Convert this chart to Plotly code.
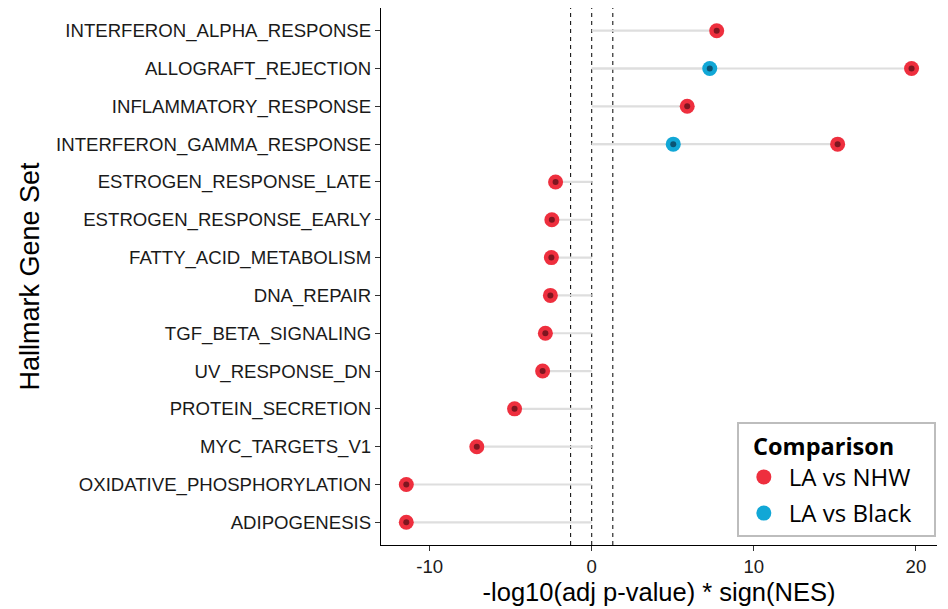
import plotly.graph_objects as go

# Hallmark gene sets, top to bottom
gene_sets = [
    "INTERFERON_ALPHA_RESPONSE",
    "ALLOGRAFT_REJECTION",
    "INFLAMMATORY_RESPONSE",
    "INTERFERON_GAMMA_RESPONSE",
    "ESTROGEN_RESPONSE_LATE",
    "ESTROGEN_RESPONSE_EARLY",
    "FATTY_ACID_METABOLISM",
    "DNA_REPAIR",
    "TGF_BETA_SIGNALING",
    "UV_RESPONSE_DN",
    "PROTEIN_SECRETION",
    "MYC_TARGETS_V1",
    "OXIDATIVE_PHOSPHORYLATION",
    "ADIPOGENESIS",
]

# -log10(adj p) * sign(NES), LA vs NHW
la_vs_nhw = [7.71, 19.73, 5.89, 15.17, -2.23, -2.46, -2.49, -2.55,
             -2.86, -3.03, -4.76, -7.09, -11.44, -11.44]

# LA vs Black (only significant sets)
black_sets = ["ALLOGRAFT_REJECTION", "INTERFERON_GAMMA_RESPONSE"]
la_vs_black = [7.28, 5.03]

x_ticks = [-10, 0, 10, 20]
sig_cut = 1.30103  # -log10(0.05)

RED = "#EE2F3E"
BLUE = "#11A7D6"
RED_CORE = "#7E1620"
BLUE_CORE = "#0B5474"

# gray stems from 0 to each value
stem_x, stem_y = [], []
for s, v in list(zip(gene_sets, la_vs_nhw)) + list(zip(black_sets, la_vs_black)):
    stem_x += [0, v, None]
    stem_y += [s, s, None]

fig = go.Figure()
fig.add_trace(go.Scatter(
    x=stem_x, y=stem_y, mode="lines",
    line=dict(color="#DEDEDE", width=2.2),
    showlegend=False, hoverinfo="skip",
))
fig.add_trace(go.Scatter(
    x=la_vs_nhw, y=gene_sets, mode="markers", name="LA vs NHW",
    legendgroup="nhw",
    marker=dict(color=RED, size=15, line=dict(width=0)),
))
fig.add_trace(go.Scatter(
    x=la_vs_black, y=black_sets, mode="markers", name="LA vs Black",
    legendgroup="black",
    marker=dict(color=BLUE, size=15, line=dict(width=0)),
))
fig.add_trace(go.Scatter(
    x=la_vs_nhw, y=gene_sets, mode="markers", showlegend=False,
    marker=dict(color=RED_CORE, size=6, line=dict(width=0)),
    hoverinfo="skip",
))
fig.add_trace(go.Scatter(
    x=la_vs_black, y=black_sets, mode="markers", showlegend=False,
    marker=dict(color=BLUE_CORE, size=6, line=dict(width=0)),
    hoverinfo="skip",
))

for xv in (-sig_cut, 0, sig_cut):
    fig.add_vline(x=xv, line=dict(color="black", width=1, dash="4px,4px"),
                  layer="below")

tick_font = dict(family="Liberation Sans, Arial, sans-serif", size=18.6, color="#1a1a1a")

fig.update_layout(
    width=948, height=609,
    margin=dict(l=381, r=11, t=8, b=64),
    plot_bgcolor="white", paper_bgcolor="white",
    xaxis=dict(
        range=[-13.0, 21.3], tickvals=x_ticks, ticktext=[str(t) for t in x_ticks],
        showgrid=False, zeroline=False,
        showline=True, linecolor="black", linewidth=1.2,
        ticks="outside", ticklen=5, tickcolor="#333", tickwidth=1.2,
        tickfont=tick_font,
        title=dict(text="-log10(adj p-value) * sign(NES)",
                   font=dict(family="Liberation Sans, Arial, sans-serif", size=25.5, color="black"),
                   standoff=6),
    ),
    yaxis=dict(
        type="category", categoryorder="array",
        categoryarray=list(reversed(gene_sets)),
        range=[-0.6, 13.6],
        showgrid=False, zeroline=False,
        showline=True, linecolor="black", linewidth=1.2,
        ticks="outside", ticklen=5, tickcolor="#333", tickwidth=1.2,
        tickfont=tick_font,
        title=dict(text="Hallmark Gene Set",
                   font=dict(family="Liberation Sans, Arial, sans-serif", size=27, color="black"),
                   standoff=8),
    ),
    legend=dict(
        x=0.640, y=0.2286, xanchor="left", yanchor="top",
        bgcolor="white", bordercolor="#BDBDBD", borderwidth=2,
        font=dict(family="Open Sans, sans-serif", size=24, color="black"),
        # padded title keeps the legend box wide with inner margins
        title=dict(text="&nbsp;&nbsp;<b>Comparison</b>" + "&nbsp;" * 6,
                   font=dict(family="Open Sans, sans-serif", size=23.5, color="black")),
        itemsizing="trace",
        itemwidth=40,
        tracegroupgap=2,
    ),
)

fig.write_html("out.html")
